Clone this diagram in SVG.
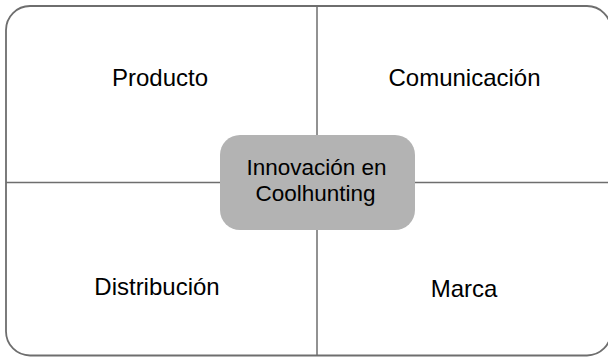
<svg xmlns="http://www.w3.org/2000/svg" width="608" height="358" viewBox="0 0 608 358">
<style>
.frame{fill:#fff;stroke:#6e6e6e;stroke-width:1.8}
.line{stroke:#6e6e6e;stroke-width:1.5;fill:none}
.center{fill:#b3b3b3;stroke:none}
text{font-family:"Liberation Sans",Arial,sans-serif;font-size:24px;fill:#000;text-anchor:middle}
.ct{font-size:22.5px}
</style>
<rect width="608" height="358" fill="#fff"/>
<g id="frame"><rect class="frame" x="6" y="6" width="605" height="349.5" rx="24"/></g>
<g id="connectors">
<line class="line" x1="317" y1="6" x2="317" y2="355.5"/>
<line class="line" x1="6" y1="182.5" x2="608" y2="182.5"/>
</g>
<g id="producto"><text x="160" y="86">Producto</text></g>
<g id="comunicacion"><text x="464.5" y="86">Comunicación</text></g>
<g id="distribucion"><text x="157" y="295">Distribución</text></g>
<g id="marca"><text x="464" y="297">Marca</text></g>
<g id="innovacion">
<rect class="center" x="220" y="135" width="195" height="95" rx="20"/>
<text class="ct" x="316.5" y="175">Innovación en</text>
<text class="ct" x="315.5" y="201">Coolhunting</text>
</g>
</svg>
